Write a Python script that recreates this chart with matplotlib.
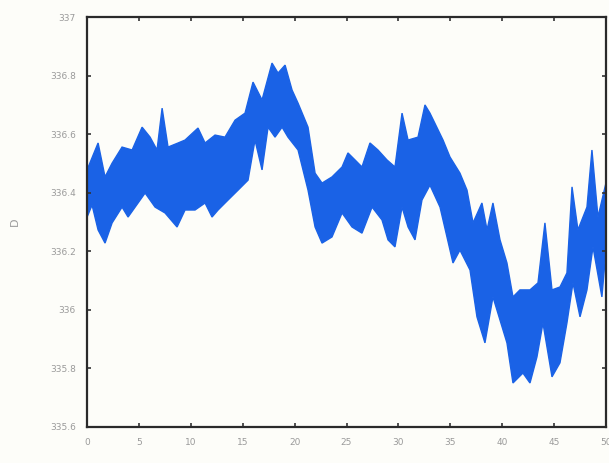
import matplotlib
matplotlib.use("Agg")
import matplotlib.pyplot as plt

# upper edge of the noisy band (time, value)
upper_t = [0.0, 1.06, 1.73, 2.41, 3.37, 4.34, 5.30, 6.07, 6.74, 7.23, 7.80, 8.77,
           9.44, 10.69, 11.37, 12.33, 13.29, 14.26, 15.22, 15.99, 16.86, 17.82,
           18.40, 19.08, 19.75, 20.33, 21.29, 21.97, 22.64, 23.60, 24.57, 25.14,
           25.82, 26.49, 27.26, 28.03, 28.90, 29.67, 30.35, 30.93, 31.89, 32.56,
           33.04, 34.30, 34.97, 35.93, 36.61, 37.19, 38.05, 38.54, 39.11, 39.79,
           40.46, 41.04, 41.71, 42.68, 43.45, 44.12, 44.80, 45.57, 46.24, 46.73,
           47.30, 48.17, 48.65, 49.23, 50.0]
upper_v = [336.478, 336.570, 336.454, 336.501, 336.556, 336.546, 336.624, 336.590,
           336.546, 336.689, 336.556, 336.570, 336.580, 336.621, 336.570, 336.597,
           336.590, 336.648, 336.672, 336.778, 336.717, 336.843, 336.809, 336.836,
           336.751, 336.706, 336.624, 336.467, 336.433, 336.454, 336.488, 336.536,
           336.512, 336.488, 336.570, 336.546, 336.512, 336.488, 336.672, 336.580,
           336.590, 336.700, 336.672, 336.580, 336.522, 336.467, 336.409, 336.297,
           336.365, 336.273, 336.365, 336.239, 336.160, 336.044, 336.068, 336.068,
           336.092, 336.297, 336.068, 336.078, 336.126, 336.420, 336.273, 336.351,
           336.546, 336.317, 336.433]

# lower edge of the noisy band
lower_t = [0.0, 0.48, 1.06, 1.73, 2.41, 3.37, 3.95, 4.91, 5.59, 6.55, 7.51, 8.67,
           9.44, 10.40, 11.37, 12.04, 12.62, 13.58, 14.55, 15.51, 16.18, 16.86,
           17.44, 18.11, 18.79, 19.36, 20.33, 21.29, 21.97, 22.64, 23.60, 24.57,
           25.53, 26.49, 27.46, 28.42, 29.00, 29.67, 30.35, 30.93, 31.60, 32.27,
           33.04, 34.01, 34.68, 35.26, 35.93, 36.90, 37.57, 38.34, 39.11, 39.79,
           40.46, 41.04, 42.00, 42.68, 43.35, 43.93, 44.80, 45.57, 46.24, 46.82,
           47.50, 48.17, 48.75, 49.61, 50.0]
lower_v = [336.317, 336.358, 336.273, 336.228, 336.297, 336.351, 336.317, 336.365,
           336.399, 336.351, 336.331, 336.283, 336.341, 336.341, 336.365, 336.317,
           336.341, 336.375, 336.409, 336.443, 336.580, 336.478, 336.624, 336.590,
           336.624, 336.590, 336.546, 336.409, 336.283, 336.228, 336.249, 336.331,
           336.283, 336.262, 336.351, 336.307, 336.239, 336.215, 336.351, 336.283,
           336.239, 336.375, 336.426, 336.351, 336.249, 336.160, 336.204, 336.136,
           335.976, 335.887, 336.044, 335.965, 335.887, 335.750, 335.784, 335.750,
           335.839, 335.955, 335.771, 335.819, 335.955, 336.092, 335.976, 336.068,
           336.215, 336.044, 336.204]

x_ticks = [0, 5, 10, 15, 20, 25, 30, 35, 40, 45, 50]
y_ticks = [335.6, 335.8, 336.0, 336.2, 336.4, 336.6, 336.8, 337.0]
y_tick_labels = ["335.6", "335.8", "336", "336.2", "336.4", "336.6", "336.8", "337"]

fig = plt.figure(figsize=(6.09, 4.63), dpi=100, facecolor="#fdfdf9")
ax = fig.add_axes([0.143, 0.078, 0.852, 0.885])
ax.set_facecolor("#fdfdf9")

# band drawn as one polygon: upper edge forward, lower edge back
poly_t = upper_t + lower_t[::-1]
poly_v = upper_v + lower_v[::-1]
ax.fill(poly_t, poly_v, color="#1a62e6", linewidth=1.0, edgecolor="#1a62e6")

ax.set_xlim(0, 50)
ax.set_ylim(335.6, 337.0)
ax.set_xticks(x_ticks)
ax.set_yticks(y_ticks)
ax.set_yticklabels(y_tick_labels)
ax.tick_params(direction="in", length=3, width=1.2, colors="#333333",
               top=True, right=True, labelsize=6.5, labelcolor="#9a9a9a", pad=8)
for s in ax.spines.values():
    s.set_linewidth(1.6)
    s.set_color("#2a2a2a")
ax.set_ylabel("D", color="#9a9a9a", fontsize=8, labelpad=22)

fig.savefig("out.png", dpi=100, facecolor=fig.get_facecolor())
